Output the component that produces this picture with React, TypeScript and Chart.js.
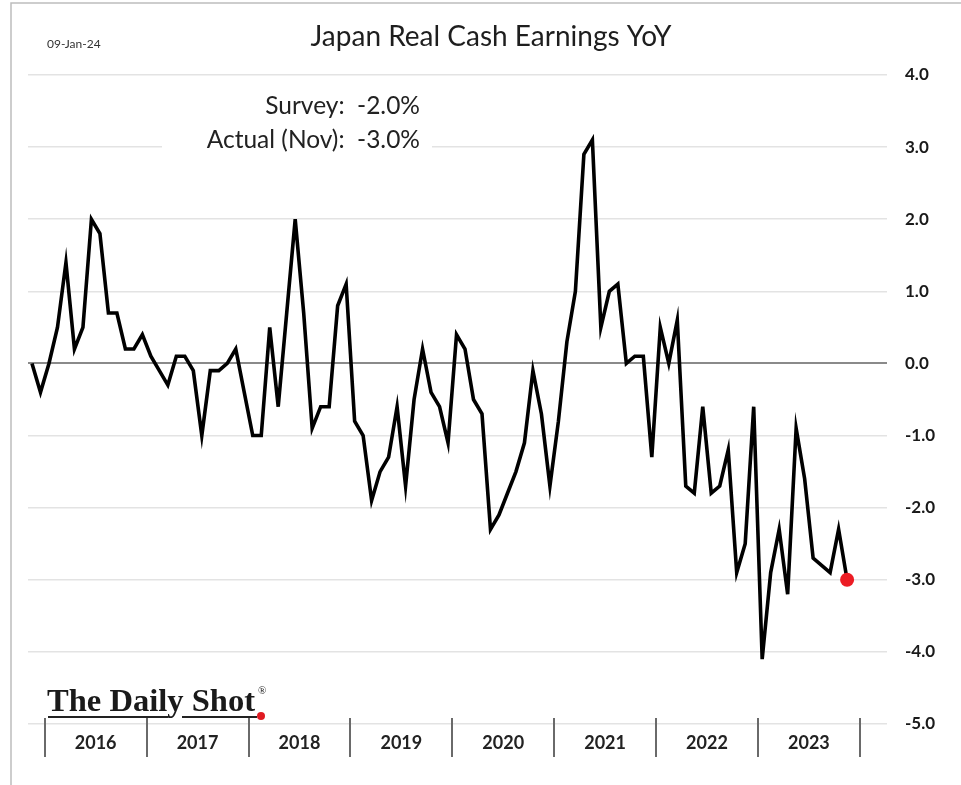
import React, { useEffect, useRef } from "react";
import { Chart, registerables } from "chart.js";

Chart.register(...registerables);

// ---- data ----
const START_MONTH = "2015-11"; // first observation (index 0)
const values = [
  0.0, -0.4, 0.0, 0.5, 1.4, 0.2, 0.5, 2.0, 1.8, 0.7, 0.7, 0.2,
  0.2, 0.4, 0.1, -0.1, -0.3, 0.1, 0.1, -0.1, -1.0, -0.1, -0.1, 0.0,
  0.2, -0.4, -1.0, -1.0, 0.5, -0.6, 0.7, 2.0, 0.7, -0.9, -0.6, -0.6,
  0.8, 1.1, -0.8, -1.0, -1.9, -1.5, -1.3, -0.6, -1.7, -0.5, 0.2, -0.4,
  -0.6, -1.1, 0.4, 0.2, -0.5, -0.7, -2.3, -2.1, -1.8, -1.5, -1.1, -0.1,
  -0.7, -1.7, -0.8, 0.3, 1.0, 2.9, 3.1, 0.5, 1.0, 1.1, 0.0, 0.1,
  0.1, -1.3, 0.5, 0.0, 0.6, -1.7, -1.8, -0.6, -1.8, -1.7, -1.2, -2.9,
  -2.5, -0.6, -4.1, -2.9, -2.3, -3.2, -0.9, -1.6, -2.7, -2.8, -2.9, -2.3,
  -3.0,
];
const yearLabels = ["2016", "2017", "2018", "2019", "2020", "2021", "2022", "2023"];
const firstYearIndex = 2; // Jan 2016 position in values (START_MONTH + 2)
const yMin = -5;
const yMax = 4;
const yStep = 1;

const titleText = "Japan Real Cash Earnings YoY";
const dateText = "09-Jan-24";
const surveyText = "Survey:  -2.0%";
const actualText = "Actual (Nov):  -3.0%";
const sourceText = "The Daily Shot";

const decoPlugin = {
  id: "deco",
  beforeDatasetsDraw(chart: any) {
    const { ctx } = chart;
    ctx.save();
    // white box behind annotation
    ctx.fillStyle = "#ffffff";
    ctx.fillRect(162, 86, 270, 70);
    ctx.fillStyle = "#222222";
    ctx.font = "24.5px Lato";
    ctx.textAlign = "right";
    ctx.textBaseline = "middle";
    ctx.fillText(surveyText, 420, 106);
    ctx.fillText(actualText, 420, 140);
    ctx.restore();
  },
  afterDraw(chart: any) {
    const { ctx } = chart;
    const xs = chart.scales.x;
    ctx.save();
    // frame
    ctx.strokeStyle = "#bdbdbd";
    ctx.lineWidth = 1.5;
    ctx.beginPath();
    ctx.moveTo(11, 785);
    ctx.lineTo(11, 3);
    ctx.lineTo(961, 3);
    ctx.stroke();

    // title
    ctx.fillStyle = "#1e1e1e";
    ctx.font = "28px Lato";
    ctx.textAlign = "center";
    ctx.textBaseline = "middle";
    ctx.fillText(titleText, 491, 37);

    // date
    ctx.font = "12px Lato";
    ctx.textAlign = "left";
    ctx.fillStyle = "#333";
    ctx.fillText(dateText, 47, 44);

    // year dividers + labels
    ctx.strokeStyle = "#6a6a6a";
    ctx.lineWidth = 2;
    for (let k = 0; k <= yearLabels.length; k++) {
      const xv = firstYearIndex - 0.5 + 12 * k;
      const px = Math.round(xs.getPixelForValue(xv));
      ctx.beginPath();
      ctx.moveTo(px, 718);
      ctx.lineTo(px, 757);
      ctx.stroke();
    }
    ctx.fillStyle = "#222";
    ctx.font = "bold 18px Lato";
    ctx.textAlign = "center";
    ctx.textBaseline = "middle";
    yearLabels.forEach((lab, k) => {
      const xv = firstYearIndex - 0.5 + 12 * k + 6;
      ctx.fillText(lab, xs.getPixelForValue(xv), 743);
    });

    // logo
    ctx.fillStyle = "#1a1a1a";
    ctx.font = "bold 32px 'Liberation Serif'";
    ctx.textAlign = "left";
    ctx.textBaseline = "alphabetic";
    const w = ctx.measureText(sourceText).width;
    ctx.save();
    ctx.translate(47, 711);
    ctx.scale(208 / w, 1);
    ctx.fillText(sourceText, 0, 0);
    ctx.restore();
    ctx.font = "11px 'Liberation Serif'";
    ctx.fillText("®", 258, 694);
    ctx.strokeStyle = "#222";
    ctx.lineWidth = 2;
    ctx.beginPath();
    ctx.moveTo(48, 717);
    ctx.lineTo(168, 717);
    ctx.moveTo(182, 717);
    ctx.lineTo(257, 717);
    ctx.stroke();
    ctx.fillStyle = "#e01b22";
    ctx.beginPath();
    ctx.arc(261, 716, 4, 0, Math.PI * 2);
    ctx.fill();
    ctx.restore();
  },
};

export default function App() {
  const ref = useRef<HTMLCanvasElement | null>(null);
  useEffect(() => {
    if (!ref.current) return;
    const last = values.length - 1;
    const chart = new Chart(ref.current, {
      type: "line",
      data: {
        datasets: [
          {
            label: "Japan Real Cash Earnings YoY (from " + START_MONTH + ")",
            data: values.map((v, i) => ({ x: i, y: v })),
            borderColor: "#000000",
            borderWidth: 3.6,
            tension: 0,
            pointRadius: (c: any) => (c.dataIndex === last ? 7 : 0),
            pointHoverRadius: 0,
            pointBackgroundColor: "#ec1c24",
            pointBorderWidth: 0,
            borderJoinStyle: "miter",
          },
        ],
      },
      options: {
        animation: false,
        responsive: false,
        events: [],
        layout: { padding: { left: 28, top: 75, bottom: 61, right: 0 } },
        plugins: {
          legend: { display: false },
          tooltip: { enabled: false },
          title: { display: false },
        },
        scales: {
          x: {
            type: "linear",
            min: -0.47,
            max: 100.7,
            display: false,
          },
          y: {
            position: "right",
            min: yMin,
            max: yMax,
            afterFit: (s: any) => {
              s.width = 74;
            },
            border: { display: false },
            grid: {
              drawTicks: false,
              color: (c: any) => (c.tick && c.tick.value === 0 ? "#8a8a8a" : "#e3e3e3"),
              lineWidth: (c: any) => (c.tick && c.tick.value === 0 ? 2 : 1.5),
            },
            ticks: {
              stepSize: yStep,
              padding: 18,
              color: "#1a1a1a",
              font: { family: "Lato", weight: "bold", size: 17 },
              callback: (v: any) => Number(v).toFixed(1),
            },
          },
        },
      },
      plugins: [decoPlugin],
    });
    return () => chart.destroy();
  }, []);
  return (
    <div style={{ position: "fixed", left: 0, top: 0, width: 961, height: 785, background: "#fff" }}>
      <canvas ref={ref} width={961} height={785} style={{ width: 961, height: 785 }} />
    </div>
  );
}
